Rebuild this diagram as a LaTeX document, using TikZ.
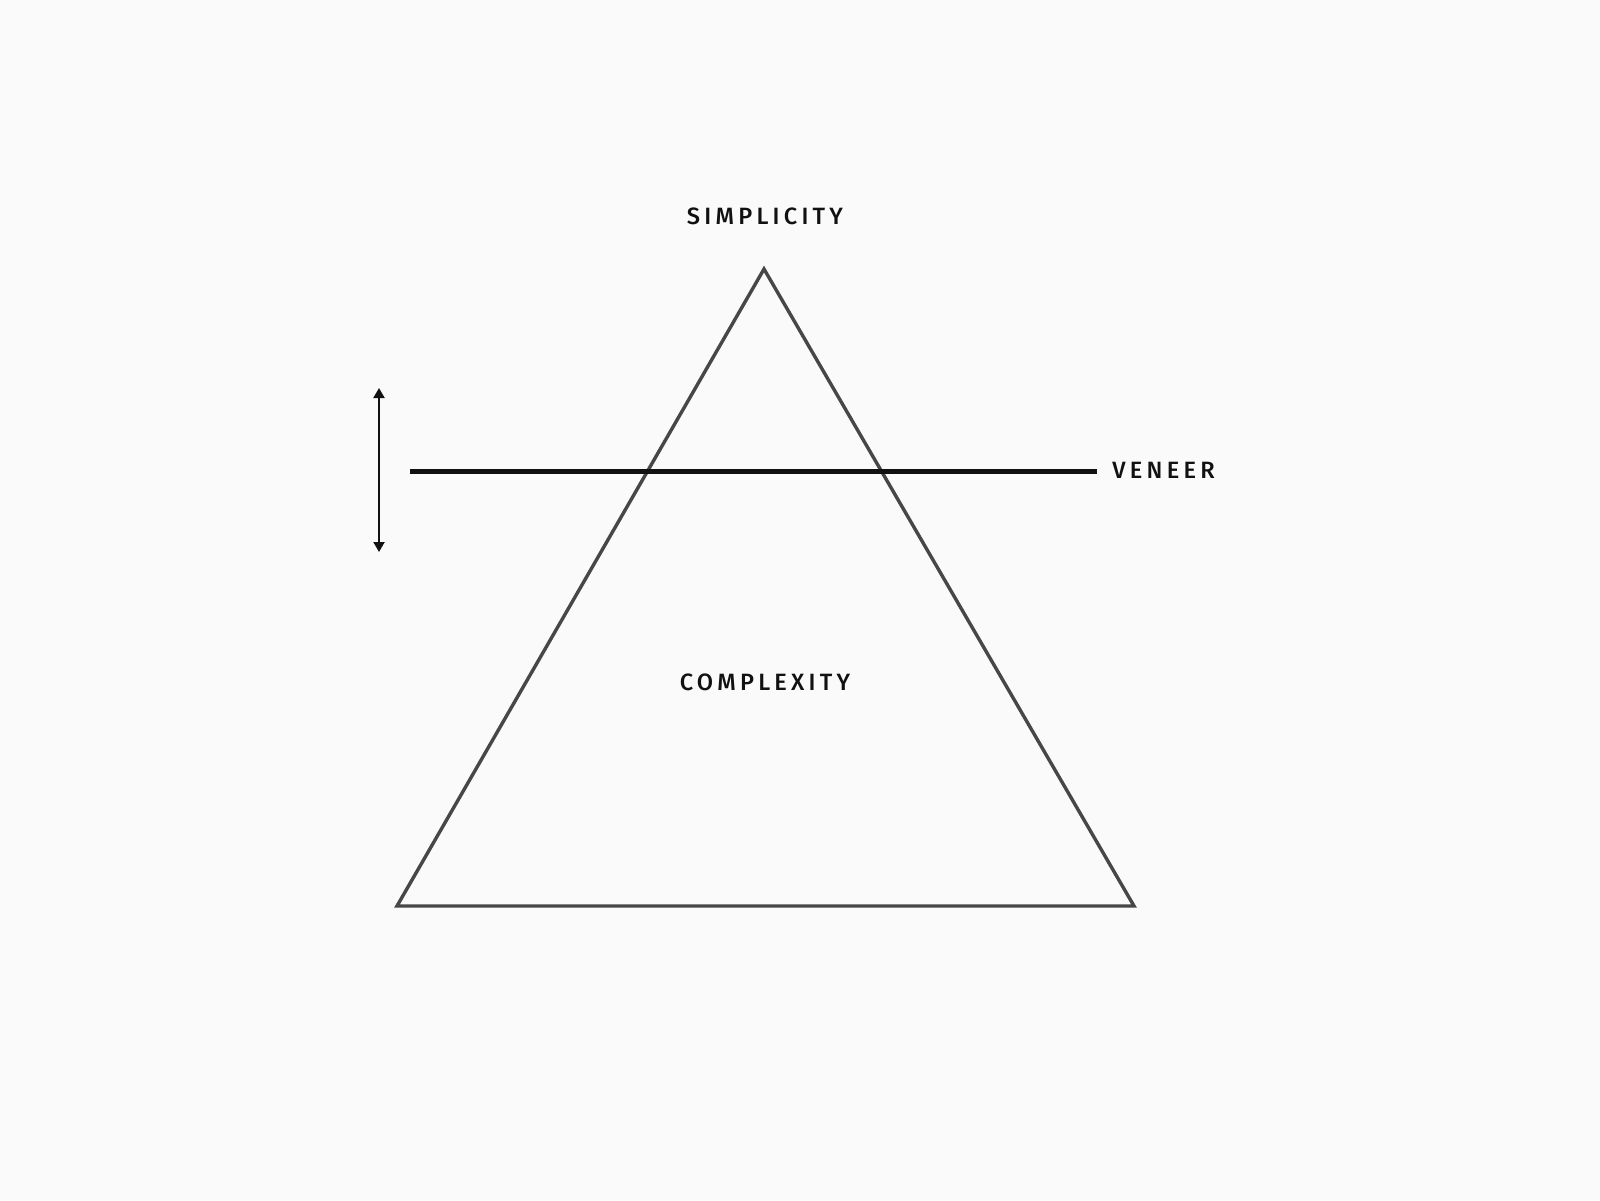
\documentclass[tikz,border=0pt]{standalone}
\usepackage{fontspec}
\setmainfont{Fira Sans}[UprightFont=* Medium, LetterSpace=18]
\usetikzlibrary{arrows.meta}
\definecolor{bg}{HTML}{FAFAFA}
\definecolor{tri}{HTML}{474747}
\definecolor{ink}{HTML}{111111}
\begin{document}
\begin{tikzpicture}[x=0.5pt,y=-0.5pt,
  lbl/.style={font=\fontsize{11.8}{13}\selectfont, text=ink, inner sep=0pt},
  trianglestyle/.style={draw=tri, line width=1.7pt, line join=miter},
  veneerline/.style={draw=ink, line width=2.1pt},
  twoarrow/.style={draw=ink, line width=1pt, {Triangle[width=5.5pt,length=5pt]}-{Triangle[width=5.5pt,length=5pt]}}]
\fill[bg] (0,0) rectangle (1600,1200);
\useasboundingbox (0,0) rectangle (1600,1200);
\coordinate (apex) at (764,269);
\coordinate (bl) at (397,906);
\coordinate (br) at (1134,906);
\draw[trianglestyle] (apex) -- (bl) -- (br) -- cycle;
\coordinate (vl) at (410,471.5);
\coordinate (vr) at (1097,471.5);
\draw[veneerline] (vl) -- (vr);
\coordinate (at) at (379,388);
\coordinate (ab) at (379,552);
\draw[twoarrow] (at) -- (ab);
\node[lbl] (simp) at (765,216) {SIMPLICITY};
\node[lbl] (comp) at (765,682) {COMPLEXITY};
\node[lbl, anchor=west] (ven) at (1112,470) {VENEER};
\end{tikzpicture}
\end{document}
